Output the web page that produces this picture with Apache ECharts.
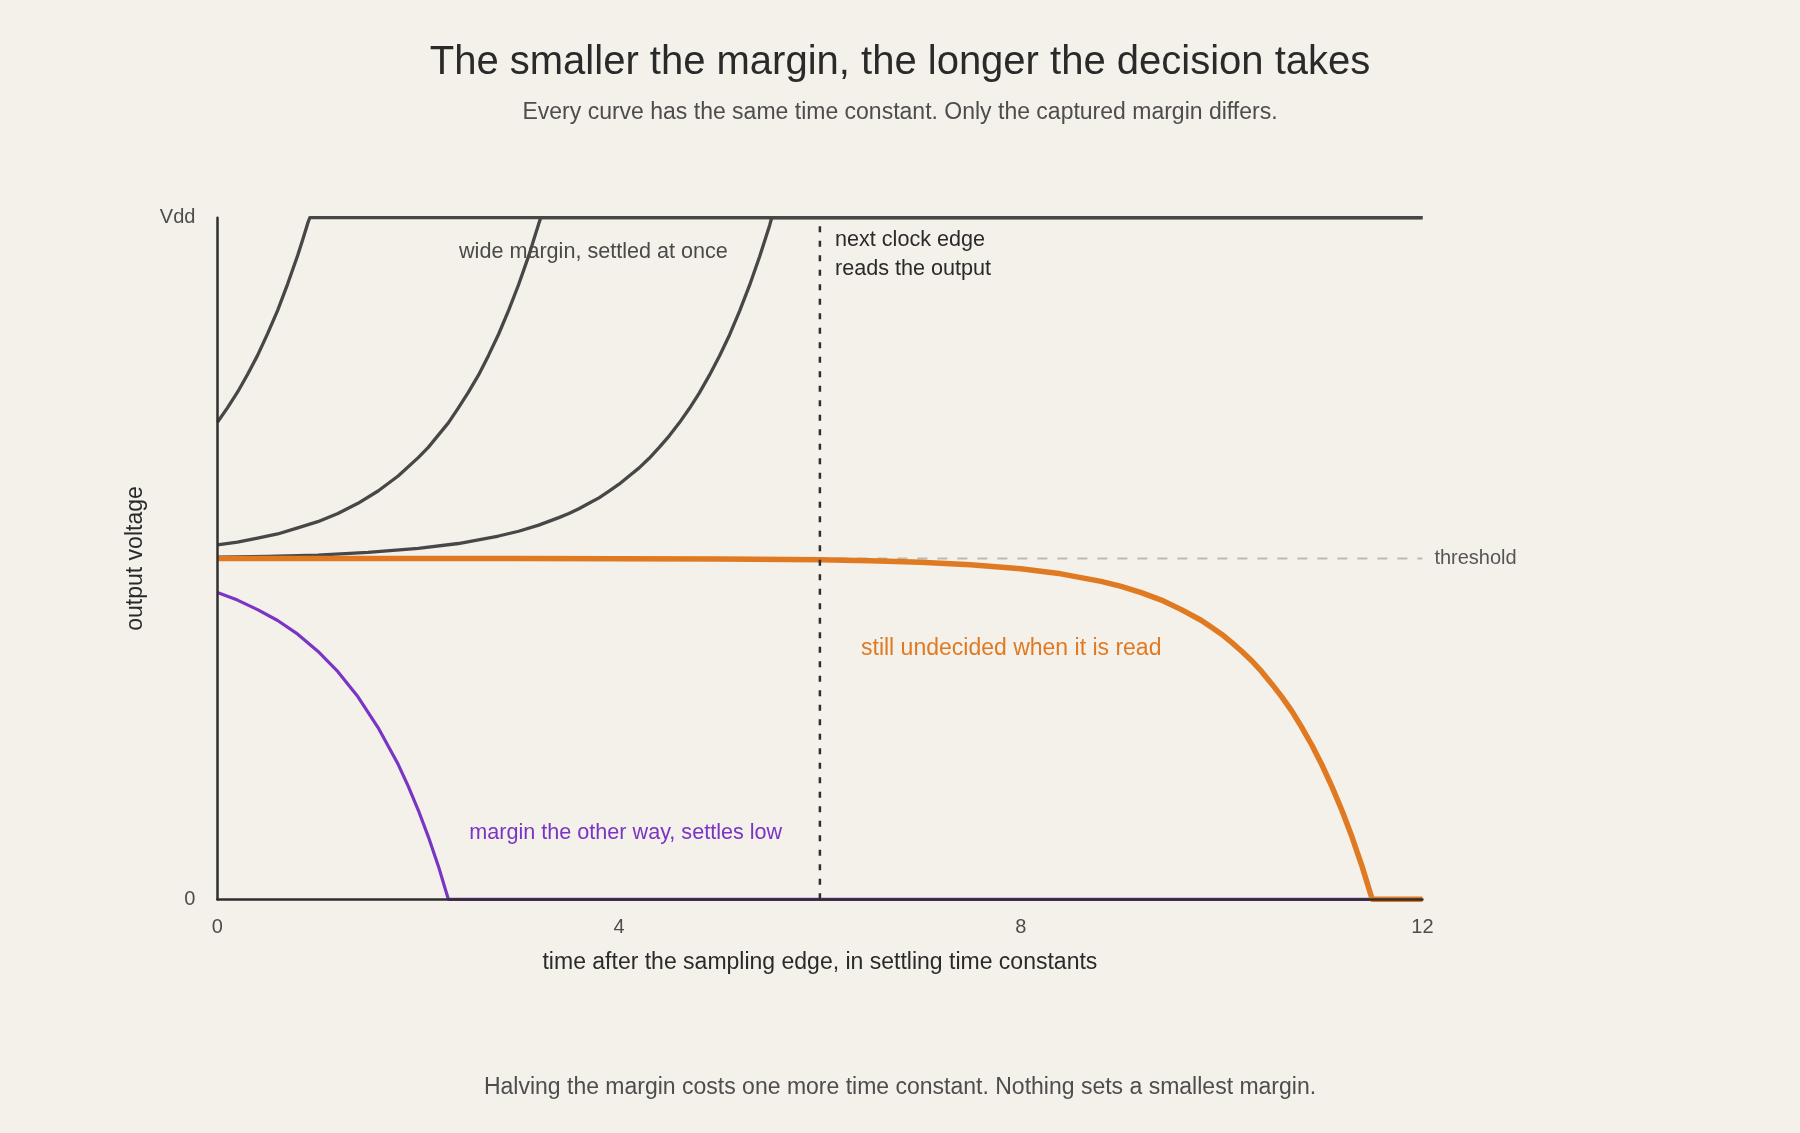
<!doctype html>
<html>

<head>
    <meta charset="utf-8">
    <title>margin vs decision time</title>
    <style>
    html, body {
      margin: 0;
      padding: 0;
      background: #f4f1ea;
    }
    #main {
      width: 1800px;
      height: 1133px;
    }
    </style>
</head>

<body>
    <div id="main"></div>
    <script src="https://cdn.jsdelivr.net/npm/echarts@6/dist/echarts.min.js"></script>
    <script>
    // time axis, in settling time constants
    var xTicks = [0, 4, 8, 12];
    var clockEdgeT = [6, 6];
    var clockEdgeV = [0, 1];
    var thresholdT = [0, 12];
    var thresholdV = [0.5, 0.5];
    var vdd = 1;

    // wide margin: settles almost at once
    var wideT = [0, 0.1, 0.2, 0.3, 0.4, 0.5, 0.6, 0.7, 0.8, 0.85, 0.9, 0.92, 12];
    var wideV = [0.700, 0.721, 0.744, 0.770, 0.798, 0.830, 0.864, 0.903, 0.945, 0.968, 0.992, 1, 1];

    // ten times smaller margin
    var midT = [0, 0.2, 0.4, 0.6, 0.8, 1, 1.2, 1.4, 1.6, 1.8, 2, 2.1, 2.2, 2.3, 2.4, 2.5, 2.6, 2.7, 2.8, 2.9, 3, 3.1, 3.2, 3.22, 12];
    var midV = [0.520, 0.524, 0.530, 0.536, 0.545, 0.554, 0.566, 0.581, 0.599, 0.621, 0.648, 0.663, 0.681, 0.699, 0.721, 0.744, 0.769, 0.798, 0.829, 0.864, 0.902, 0.944, 0.991, 1, 1];

    // a hundred times smaller margin
    var smallT = [0, 0.5, 1, 1.5, 2, 2.4, 2.8, 3, 3.2, 3.4, 3.5, 3.6, 3.7, 3.8, 3.9, 4, 4.1, 4.2, 4.3, 4.4, 4.5, 4.6, 4.7, 4.8, 4.9, 5, 5.1, 5.2, 5.3, 5.4, 5.5, 5.52, 12];
    var smallV = [0.502, 0.503, 0.505, 0.509, 0.515, 0.522, 0.533, 0.540, 0.549, 0.560, 0.566, 0.573, 0.581, 0.589, 0.599, 0.609, 0.621, 0.633, 0.647, 0.663, 0.680, 0.699, 0.720, 0.743, 0.769, 0.797, 0.828, 0.863, 0.901, 0.943, 0.989, 1, 1];

    // tiny margin, still undecided at the clock edge
    var tinyT = [0, 3, 5, 6, 6.5, 7, 7.5, 8, 8.4, 8.8, 9, 9.2, 9.4, 9.6, 9.8, 9.9, 10, 10.1, 10.2, 10.3, 10.4, 10.5, 10.6, 10.7, 10.8, 10.9, 11, 11.1, 11.2, 11.3, 11.4, 11.5, 12];
    var tinyV = [0.500, 0.4999, 0.4992, 0.498, 0.4966, 0.4945, 0.4909, 0.4849, 0.4775, 0.4664, 0.459, 0.450, 0.439, 0.425, 0.409, 0.399, 0.389, 0.377, 0.364, 0.350, 0.334, 0.316, 0.297, 0.276, 0.252, 0.226, 0.197, 0.165, 0.130, 0.091, 0.048, 0, 0];

    // margin on the other side, falls to ground
    var lowT = [0, 0.2, 0.4, 0.6, 0.8, 1, 1.2, 1.4, 1.6, 1.8, 1.9, 2, 2.1, 2.2, 2.3, 12];
    var lowV = [0.450, 0.439, 0.425, 0.409, 0.389, 0.364, 0.334, 0.297, 0.252, 0.198, 0.166, 0.131, 0.092, 0.049, 0, 0];

    var font = '"Liberation Sans", Arial, Helvetica, sans-serif';

    function pairs(t, v) {
        var out = [];
        for (var i = 0; i < t.length; i++) {
            out.push([t[i], v[i]]);
        }
        return out
    }

    function curve(t, v, color, width, dash) {
        return {
            type: 'line',
            data: pairs(t, v),
            symbol: 'none',
            silent: true,
            clip: false,
            lineStyle: { color: color, width: width, type: dash || 'solid', cap: 'butt', join: 'round' }
        }
    }

    function note(text, x, y, size, color, align, extra) {
        var o = {
            type: 'text',
            silent: true,
            z: 20,
            style: {
                text: text,
                x: x,
                y: y,
                fill: color,
                fontSize: size,
                fontFamily: font,
                align: align,
                textAlign: align,
                verticalAlign: 'middle',
                textVerticalAlign: 'middle'
            }
        };
        if (extra) {
            for (var k in extra) o.style[k] = extra[k];
        }
        return o
    }

    var thresholdLine = curve(thresholdT, thresholdV, '#bfb9af', 2, [10, 10]);
    thresholdLine.endLabel = {
        show: true,
        formatter: 'threshold',
        distance: 12,
        fontSize: 20,
        color: '#555555',
        fontFamily: font
    };

    var chart = echarts.init(document.getElementById('main'));

    chart.setOption({
        animation: false,
        backgroundColor: '#f4f1ea',
        textStyle: { fontFamily: font },
        grid: {
            left: 217.4,
            right: 377.6,
            top: 217.7,
            bottom: 233.7,
            containLabel: false,
            outerBoundsMode: 'none'
        },
        xAxis: {
            type: 'value',
            min: xTicks[0],
            max: xTicks[xTicks.length - 1],
            interval: xTicks[1] - xTicks[0],
            z: 10,
            axisLine: { show: true, onZero: false, lineStyle: { color: '#2f2f2f', width: 2.5 } },
            axisTick: { show: false },
            splitLine: { show: false },
            axisLabel: { fontSize: 20, color: '#4d4d4d', margin: 18, fontFamily: font },
            name: 'time after the sampling edge, in settling time constants',
            nameLocation: 'middle',
            nameGap: 52,
            nameTextStyle: { fontSize: 23, color: '#2a2a2a', fontFamily: font }
        },
        yAxis: {
            type: 'value',
            min: 0,
            max: vdd,
            interval: vdd,
            z: 10,
            axisLine: { show: true, onZero: false, lineStyle: { color: '#2f2f2f', width: 2.5 } },
            axisTick: { show: false },
            splitLine: { show: false },
            axisLabel: {
                fontSize: 20,
                color: '#4d4d4d',
                margin: 22,
                fontFamily: font,
                formatter: function(v) { return v === vdd ? 'Vdd' : '0'; }
            },
            name: 'output voltage',
            nameLocation: 'middle',
            nameGap: 70,
            nameRotate: 90,
            nameTextStyle: { fontSize: 23, color: '#2a2a2a', fontFamily: font }
        },
        series: [
            thresholdLine,
            curve(wideT, wideV, '#474747', 3.3),
            curve(midT, midV, '#474747', 3.3),
            curve(smallT, smallV, '#474747', 3.3),
            curve(lowT, lowV, '#7b35c4', 3.2),
            curve(tinyT, tinyV, '#e07a22', 5.5),
            curve(clockEdgeT, clockEdgeV, '#2f2f2f', 2.5, [6, 8.5])
        ],
        graphic: [
            note('The smaller the margin, the longer the decision takes', 900, 63.3, 40, '#2a2a2a', 'center'),
            note('Every curve has the same time constant. Only the captured margin differs.', 900, 112.2, 23, '#4d4d4d', 'center'),
            note('Halving the margin costs one more time constant. Nothing sets a smallest margin.', 900, 1087.9, 23, '#4d4d4d', 'center'),
            note('wide margin, settled at once', 459, 251.6, 21.6, '#4a4a4a', 'left'),
            note('next clock edge\nreads the output', 835, 254.7, 21.6, '#2a2a2a', 'left', { lineHeight: 29.3 }),
            note('still undecided when it is read', 861, 648.9, 23, '#e07a22', 'left'),
            note('margin the other way, settles low', 469.3, 832.6, 21.6, '#7b35c4', 'left')
        ]
    });
    </script>
</body>

</html>
